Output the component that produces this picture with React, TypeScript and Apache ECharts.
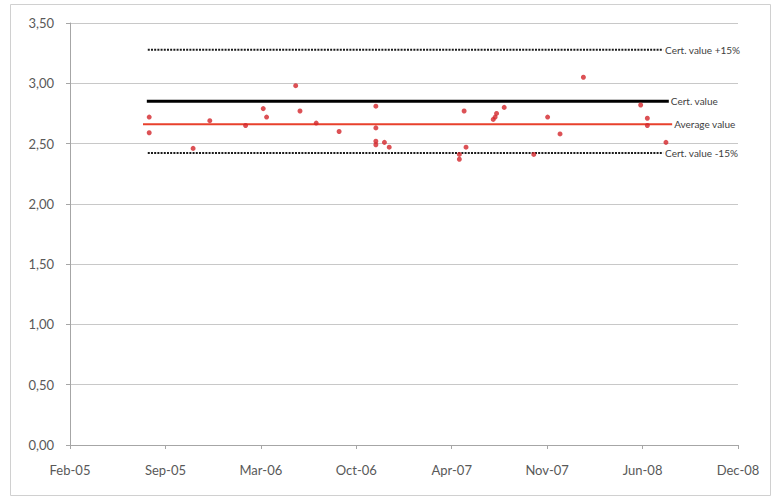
import React, { useEffect, useRef } from "react";
import * as echarts from "echarts";

// X-axis tick labels (Excel date axis, one tick every 200 days from serial 38400)
const tickLabels = ["Feb-05", "Sep-05", "Mar-06", "Oct-06", "Apr-07", "Nov-07", "Jun-08", "Dec-08"];
const axisStartSerial = 38400;
const tickStepDays = 200;

// Measurements
const sampleDates = [
  "2005-08-02", "2005-08-02", "2005-11-02", "2005-12-07", "2006-02-20", "2006-03-29",
  "2006-04-05", "2006-06-05", "2006-06-14", "2006-07-18", "2006-09-04", "2006-11-20",
  "2006-11-20", "2006-11-20", "2006-11-20", "2006-12-08", "2006-12-18", "2007-05-14",
  "2007-05-14", "2007-05-24", "2007-05-28", "2007-07-24", "2007-07-28", "2007-07-31",
  "2007-08-16", "2007-10-17", "2007-11-15", "2007-12-11", "2008-01-29", "2008-05-28",
  "2008-06-11", "2008-06-11", "2008-07-20",
];
const sampleValues = [
  2.72, 2.59, 2.46, 2.69, 2.65, 2.79,
  2.72, 2.98, 2.77, 2.67, 2.60, 2.81,
  2.63, 2.52, 2.49, 2.51, 2.47, 2.41,
  2.37, 2.77, 2.47, 2.70, 2.72, 2.75,
  2.80, 2.41, 2.72, 2.58, 3.05, 2.82,
  2.71, 2.65, 2.51,
];

// Reference lines
const certValue = 2.85;
const averageValue = 2.66;
const refNames = ["Cert. value +15%", "Cert. value", "Average value", "Cert. value -15%"];
const refValues = [certValue * 1.15, certValue, averageValue, certValue * 0.85];
const refStart = ["2005-07-30", "2005-07-28", "2005-07-20", "2005-07-30"];
const refEnd = ["2008-07-14", "2008-07-26", "2008-08-02", "2008-07-14"];

const toSerial = (iso: string) => {
  const [y, m, d] = iso.split("-").map(Number);
  return (Date.UTC(y, m - 1, d) - Date.UTC(1899, 11, 30)) / 86400000;
};

const FONT = "Lato";

export default function App() {
  const ref = useRef<HTMLDivElement>(null);
  useEffect(() => {
    if (!ref.current) return;
    const chart = echarts.init(ref.current, undefined, { renderer: "svg" });
    const refStyles = [
      { color: "#1a1a1a", width: 2, type: [2, 1.2] },
      { color: "#000000", width: 3, type: "solid" },
      { color: "#e8412c", width: 2, type: "solid" },
      { color: "#1a1a1a", width: 2, type: [2, 1.2] },
    ];
    const refSeries = refNames.map((name, i) => ({
      name,
      type: "line",
      data: [
        [toSerial(refStart[i]), refValues[i]],
        [toSerial(refEnd[i]), refValues[i]],
      ],
      symbol: "none",
      lineStyle: refStyles[i],
      endLabel: {
        show: true,
        formatter: name,
        distance: 2,
        color: "#404040",
        fontFamily: FONT,
        fontSize: 10,
      },
      z: 2,
    }));
    chart.setOption({
      animation: false,
      backgroundColor: "#ffffff",
      graphic: [
        {
          type: "rect",
          shape: { x: 10.5, y: 4.5, width: 760, height: 491 },
          style: { fill: "none", stroke: "#d0d0d0", lineWidth: 1 },
          silent: true,
        },
      ],
      grid: { left: 70, right: 35, top: 23, bottom: 52 },
      xAxis: {
        type: "value",
        min: axisStartSerial,
        max: axisStartSerial + tickStepDays * (tickLabels.length - 1),
        interval: tickStepDays,
        axisLine: { show: true, onZero: false, lineStyle: { color: "#a6a6a6", width: 1 } },
        axisTick: { show: true, length: 4, lineStyle: { color: "#a6a6a6" } },
        splitLine: { show: false },
        axisLabel: {
          margin: 18,
          color: "#595959",
          fontFamily: FONT,
          fontSize: 13,
          formatter: (v: number) => tickLabels[Math.round((v - axisStartSerial) / tickStepDays)] ?? "",
        },
      },
      yAxis: {
        type: "value",
        min: 0,
        max: 3.5,
        interval: 0.5,
        axisLine: { show: true, lineStyle: { color: "#a6a6a6", width: 1 } },
        axisTick: { show: true, length: 4, lineStyle: { color: "#a6a6a6" } },
        splitLine: { show: true, lineStyle: { color: "#c8c8c8", width: 1 } },
        axisLabel: {
          margin: 16,
          color: "#595959",
          fontFamily: FONT,
          fontSize: 13,
          formatter: (v: number) => v.toFixed(2).replace(".", ","),
        },
      },
      series: [
        ...refSeries,
        {
          name: "Measured",
          type: "scatter",
          data: sampleDates.map((d, i) => [toSerial(d), sampleValues[i]]),
          symbol: "circle",
          symbolSize: 5,
          itemStyle: { color: "#d3262a" },
          z: 5,
        },
      ],
    });
    return () => chart.dispose();
  }, []);
  return (
    <div
      ref={ref}
      style={{ position: "fixed", left: 0, top: 0, width: 773, height: 497, background: "#fff" }}
    />
  );
}
